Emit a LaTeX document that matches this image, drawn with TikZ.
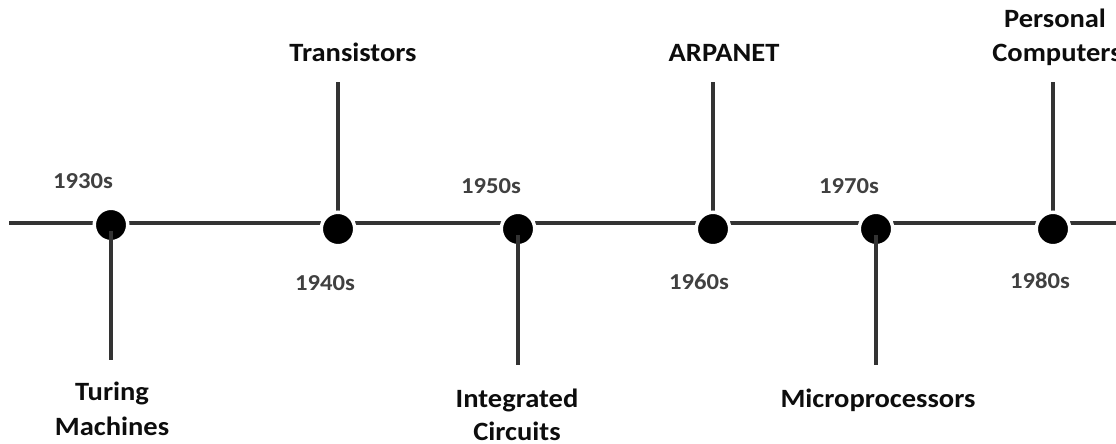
\documentclass[tikz,border=0pt]{standalone}
\usepackage{fontspec}
\setmainfont{Carlito}[FakeStretch=1.08]
\definecolor{linegray}{HTML}{333333}
\definecolor{yeargray}{HTML}{404040}
\definecolor{eventblack}{HTML}{0D0D0D}
\begin{document}
\begin{tikzpicture}[x=1pt,y=-1pt,
  axis/.style={draw=linegray, line width=3.5pt},
  stem/.style={draw=linegray, line width=3.3pt},
  dot/.style={circle, fill=black, draw=white, line width=3.5pt, minimum size=33.5pt, inner sep=0pt, outer sep=0pt},
  year/.style={font=\bfseries\fontsize{22.8}{28}\selectfont, text=yeargray, anchor=base, inner sep=0pt},
  event/.style={font=\bfseries\fontsize{26.4}{34}\selectfont, text=eventblack, anchor=base, inner sep=0pt}]
\useasboundingbox (0,0) rectangle (1116,444);
\fill[white] (0,0) rectangle (1116,444);
% axis
\coordinate (L) at (9,223);
\coordinate (R) at (1116,223);
\draw[axis] (L) -- (R);
% stem end points
\coordinate (t2) at (338,82);
\coordinate (t4) at (713,82);
\coordinate (t6) at (1053,82);
\coordinate (b1) at (111,360);
\coordinate (b3) at (518,365);
\coordinate (b5) at (876,365);
% dot centres
\coordinate (c1) at (111,225);
\coordinate (c2) at (338,229);
\coordinate (c3) at (518,229);
\coordinate (c4) at (713,229);
\coordinate (c5) at (876,229);
\coordinate (c6) at (1053,229);
% upward stems
\draw[stem] (t2) -- (c2);
\draw[stem] (t4) -- (c4);
\draw[stem] (t6) -- (c6);
% dots
\node[dot] (d1) at (c1) {};
\node[dot] (d2) at (c2) {};
\node[dot] (d3) at (c3) {};
\node[dot] (d4) at (c4) {};
\node[dot] (d5) at (c5) {};
\node[dot] (d6) at (c6) {};
% downward stems
\draw[stem] ([yshift=-6pt]d1.center) -- (b1);
\draw[stem] ([yshift=-6pt]d3.center) -- (b3);
\draw[stem] ([yshift=-6pt]d5.center) -- (b5);
% year labels
\node[year] (y1) at (83,188) {1930s};
\node[year] (y2) at (325,290) {1940s};
\node[year] (y3) at (491,193) {1950s};
\node[year] (y4) at (699,289) {1960s};
\node[year] (y5) at (849,193) {1970s};
\node[year] (y6) at (1040,288) {1980s};
% event labels
\node[event] (e1a) at (112,400) {Turing};
\node[event] (e1b) at (112,435) {Machines};
\node[event] (e2) at (353,62) {Transistors};
\node[event] (e3a) at (517,407) {Integrated};
\node[event] (e3b) at (517,440) {Circuits};
\node[event] (e4) at (724,62) {ARPANET};
\node[event] (e5) at (878,407) {Microprocessors};
\node[event] (e6a) at (1055,28) {Personal};
\node[event] (e6b) at (1057,62) {Computers};
\end{tikzpicture}
\end{document}
